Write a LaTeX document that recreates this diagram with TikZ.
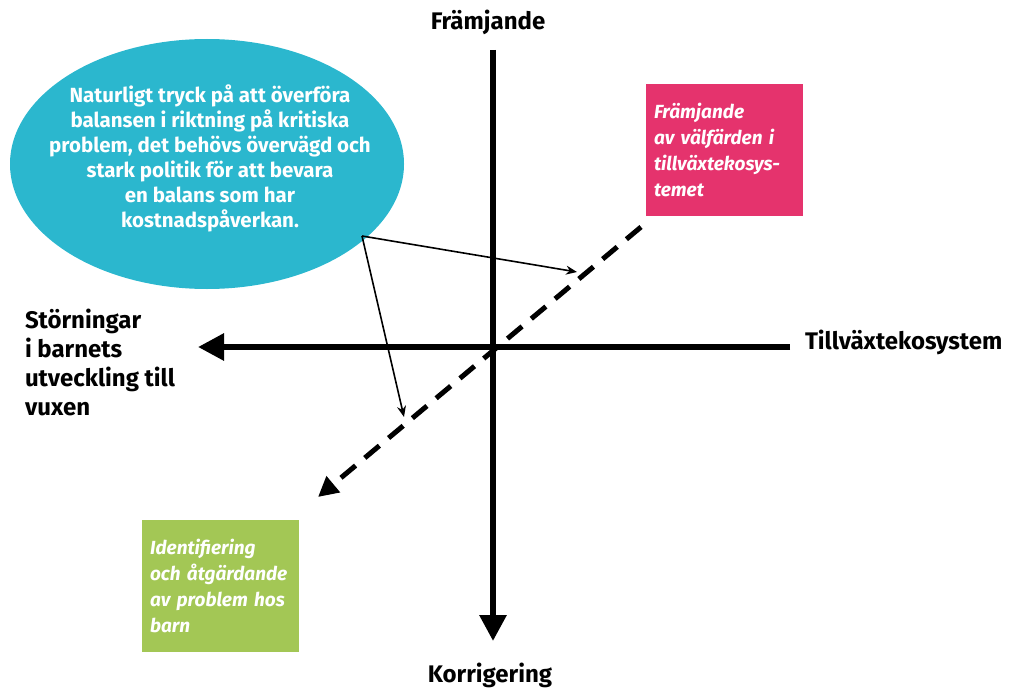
\documentclass[tikz,border=0pt]{standalone}
\usepackage{fontspec}
\setmainfont{Fira Sans}
\usetikzlibrary{arrows.meta, shapes.geometric, positioning}
\definecolor{bubbleblue}{HTML}{2BB7CE}
\definecolor{boxpink}{HTML}{E5336D}
\definecolor{boxgreen}{HTML}{A3C755}
\tikzstyle{every node}=[inner sep=0pt, outer sep=0pt]
\tikzset{AxisStyle/.style = {
			line width     = 6pt,
			-{Triangle[width=26pt,length=26pt]}},
		DashStyle/.style = {
			line width     = 5pt,
			dash pattern   = on 19pt off 12pt,
			-{Triangle[width=20pt,length=20pt]}},
		PointerStyle/.style = {
			line width     = 1.6pt,
			-{Stealth[width=9pt,length=11pt]}},
		LabelStyle/.style = {
			font           = \bfseries\fontsize{24}{29}\selectfont,
			text           = black},
		BubbleStyle/.style = {
			text           = white,
			align          = center,
			font           = \bfseries\fontsize{20.5}{25}\selectfont},
		BoxStyle/.style = {
			shape          = rectangle,
			minimum width  = 157pt,
			minimum height = 132pt,
			text width     = 140pt,
			text           = white,
			align          = left,
			font           = \bfseries\itshape\fontsize{19}{26}\selectfont}
		}

\begin{document}
\begin{tikzpicture}[x=1pt,y=-1pt]
	\useasboundingbox (0,0) rectangle (1011,690);

	% speech bubble
	\fill[bubbleblue] (207,164) ellipse [x radius=197, y radius=125];
	\draw (210,158) node[BubbleStyle] (bubble) {Naturligt tryck på att överföra\\ balansen i riktning på kritiska\\ problem, det behövs övervägd och\\ stark politik för att bevara\\ en balans som har\\ kostnadspåverkan.};

	\draw (724,150) node[BoxStyle, fill=boxpink] (pinkbox) {Främjande\\ av välfärden i\\ tillväxtekosys-\\ temet};
	\draw (220,586) node[BoxStyle, fill=boxgreen] (greenbox) {Identifiering\\ och åtgärdande\\ av problem hos\\ barn};

	\draw (488,22) node[LabelStyle] (top) {Främjande};
	\draw (490,675) node[LabelStyle] (bottom) {Korrigering};
	\draw (805,342) node[LabelStyle, anchor=west] (right) {Tillväxtekosystem};
	\draw (25,362) node[LabelStyle, anchor=west, align=left] (left) {Störningar\\ i barnets\\ utveckling till\\ vuxen};

	\coordinate (vtop) at (493,50);
	\coordinate (vbot) at (493,641);
	\coordinate (hright) at (790,347);
	\coordinate (hleft) at (198,347);
	\coordinate (dtop) at (641,227);
	\coordinate (dbot) at (318,497);
	\coordinate (tail) at (362,236);
	\coordinate (upper) at (577,272);
	\coordinate (lower) at (404,417);

	\draw[AxisStyle] (vtop) -- (vbot);
	\draw[AxisStyle] (hright) -- (hleft);
	\draw[DashStyle] (dtop) -- (dbot);

	\draw[PointerStyle] (tail) -- (upper);
	\draw[PointerStyle] (tail) -- (lower);
\end{tikzpicture}
\end{document}
